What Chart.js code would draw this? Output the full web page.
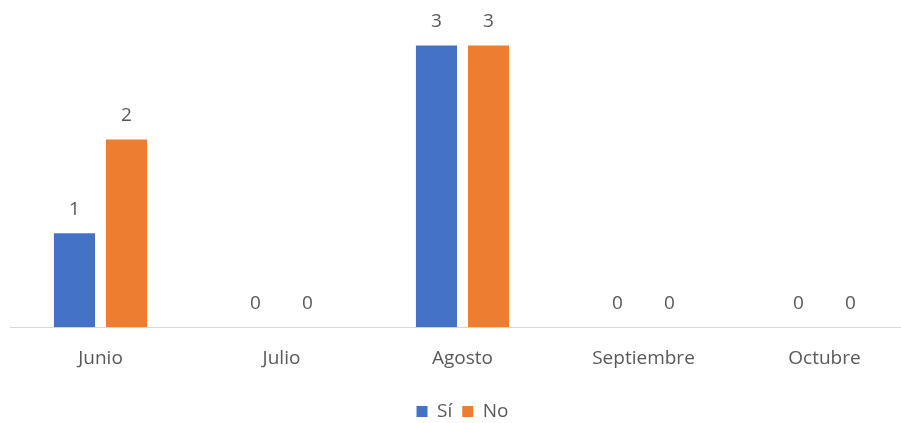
<!DOCTYPE html>
<html>
<head>
<meta charset="utf-8">
<script src="https://cdn.jsdelivr.net/npm/chart.js@4/dist/chart.umd.min.js"></script>
<style>
html,body{margin:0;padding:0;background:#fff;overflow:hidden;}
#wrap{position:absolute;left:0;top:0;width:915px;height:423px;}
</style>
</head>
<body>
<div id="wrap"><canvas id="c"></canvas></div>
<script>
const categories = ["Junio", "Julio", "Agosto", "Septiembre", "Octubre"];
const siValues = [1, 0, 3, 0, 0];
const noValues = [2, 0, 3, 0, 0];
const seriesNames = ["Sí", "No"];

const FONT = "'Open Sans', 'Liberation Sans', sans-serif";
const TXT = "#595959";

const dataLabels = {
  id: "dataLabels",
  afterDatasetsDraw(chart) {
    const ctx = chart.ctx;
    ctx.save();
    ctx.font = "19px " + FONT;
    ctx.fillStyle = TXT;
    ctx.textAlign = "center";
    ctx.textBaseline = "middle";
    chart.data.datasets.forEach((ds, i) => {
      const meta = chart.getDatasetMeta(i);
      meta.data.forEach((bar, j) => {
        ctx.fillText(String(ds.data[j]), bar.x, bar.y - 24);
      });
    });
    ctx.restore();
  }
};

new Chart(document.getElementById("c"), {
  type: "bar",
  data: {
    labels: categories,
    datasets: [
      { label: seriesNames[0], data: siValues, backgroundColor: "#4472C4", categoryPercentage: 0.575, barPercentage: 0.79 },
      { label: seriesNames[1], data: noValues, backgroundColor: "#ED7D31", categoryPercentage: 0.575, barPercentage: 0.79 }
    ]
  },
  options: {
    responsive: true,
    maintainAspectRatio: false,
    animation: false,
    layout: { padding: { left: 10, right: 0, top: 8, bottom: -8 } },
    plugins: {
      legend: {
        position: "bottom",
        labels: {
          boxWidth: 11, boxHeight: 11, padding: 10,
          color: TXT,
          font: { family: FONT, size: 19 }
        }
      },
      tooltip: { enabled: false }
    },
    scales: {
      x: {
        grid: { display: false },
        border: { display: true, color: "#d9d9d9", width: 1 },
        ticks: { color: TXT, font: { family: FONT, size: 19 }, padding: 12, maxRotation: 0 },
        afterFit(scale) { scale.height += 10; }
      },
      y: {
        display: false,
        min: 0,
        max: 3.4
      }
    }
  },
  plugins: [dataLabels]
});
</script>
</body>
</html>
